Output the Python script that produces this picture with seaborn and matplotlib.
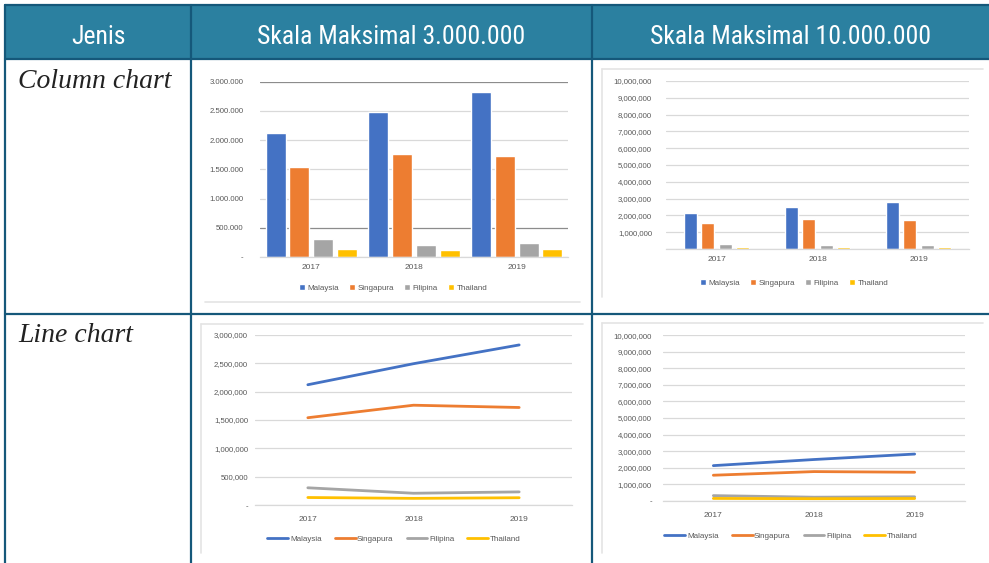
import matplotlib
matplotlib.use("Agg")
import matplotlib.pyplot as plt
import seaborn as sns
import pandas as pd
import numpy as np
from matplotlib.patches import Rectangle
from matplotlib.lines import Line2D

# ---- data -------------------------------------------------------------
years = ["2017", "2018", "2019"]
countries = ["Malaysia", "Singapura", "Filipina", "Thailand"]
malaysia = [2120000, 2490000, 2820000]
singapura = [1540000, 1760000, 1720000]
filipina = [308000, 212000, 236000]
thailand = [137000, 122000, 133000]

header_labels = ["Jenis", "Skala Maksimal 3.000.000", "Skala Maksimal 10.000.000"]
row_labels = ["Column chart", "Line chart"]
ticks_3m = [0, 500000, 1000000, 1500000, 2000000, 2500000, 3000000]
ticks_10m = [0, 1000000, 2000000, 3000000, 4000000, 5000000,
             6000000, 7000000, 8000000, 9000000, 10000000]

palette = ["#4472C4", "#ED7D31", "#A5A5A5", "#FFC000"]

df = pd.DataFrame({
    "Tahun": years * len(countries),
    "Negara": np.repeat(countries, len(years)),
    "Jumlah": malaysia + singapura + filipina + thailand,
})

# ---- figure & table frame ----------------------------------------------
sns.set_theme(style="white")
plt.rcParams["font.family"] = ["Liberation Sans", "DejaVu Sans"]

W, H = 989, 563
fig = plt.figure(figsize=(W / 100, H / 100), dpi=100)
fig.patch.set_facecolor("white")


def rect(x0, y0, x1, y1):
    return [x0 / W, 1 - y1 / H, (x1 - x0) / W, (y1 - y0) / H]


bg = fig.add_axes([0, 0, 1, 1])
bg.set_xlim(0, W)
bg.set_ylim(H, 0)
bg.axis("off")

teal = "#2B80A0"
border = "#15587A"
bg.add_patch(Rectangle((5, 5), W - 5, 54, facecolor=teal, edgecolor="none"))
for y in (5, 59, 314):
    bg.add_line(Line2D([5, W], [y, y], color=border, lw=1.6))
for x in (5, 191, 592):
    bg.add_line(Line2D([x, x], [5, H], color=border, lw=1.6))

head_font = ["Roboto Condensed", "Liberation Sans Narrow", "DejaVu Sans"]
for cx, lab in zip((98, 391, 790), header_labels):
    bg.text(cx, 37, lab, color="white", fontsize=18.5, ha="center", va="center",
            family=head_font, fontstretch="condensed")
for cy, lab in zip((81, 335), row_labels):
    bg.text(18, cy, lab, color="#222222", fontsize=20, ha="left", va="center",
            family=["Liberation Serif", "DejaVu Serif"], style="italic")

# faint frames of the chart pictures
frame_c = "#E4E4E4"
bg.add_line(Line2D([205, 580], [302, 302], color=frame_c, lw=1.2))
bg.add_line(Line2D([602, 602], [69, 297], color=frame_c, lw=1.2))
bg.add_line(Line2D([602, 983], [69, 69], color=frame_c, lw=1.2))
bg.add_line(Line2D([201, 201], [324, 553], color=frame_c, lw=1.2))
bg.add_line(Line2D([201, 583], [324, 324], color=frame_c, lw=1.2))
bg.add_line(Line2D([602, 602], [323, 553], color=frame_c, lw=1.2))
bg.add_line(Line2D([602, 983], [323, 323], color=frame_c, lw=1.2))

tick_color = "#595959"
grid_color = "#D9D9D9"


def fmt(v, sep):
    return "-" if v == 0 else f"{int(v):,}".replace(",", sep)


def style_axes(ax, ticks, labels, top, pad):
    ax.set_facecolor("none")
    ax.set_ylim(0, top)
    ax.set_xlim(-0.5, 2.5)
    ax.set_yticks(ticks)
    ax.set_yticklabels(labels)
    ax.tick_params(axis="y", length=0, pad=pad, labelsize=5.6, labelcolor=tick_color)
    ax.tick_params(axis="x", length=0, pad=5, labelsize=6, labelcolor=tick_color)
    ax.set_xlabel("")
    ax.set_ylabel("")
    ax.yaxis.grid(True, color=grid_color, lw=0.9)
    ax.set_axisbelow(True)
    for s in ("left", "right", "top"):
        ax.spines[s].set_visible(False)
    ax.spines["bottom"].set_color(grid_color)
    ax.spines["bottom"].set_linewidth(0.9)


def place_legend(ax, cx, cy, marker):
    handles, labels = ax.get_legend_handles_labels()
    if ax.get_legend() is not None:
        ax.get_legend().remove()
    kw = dict(handlelength=0.8, handleheight=0.8, handletextpad=0.3, columnspacing=1.2) \
        if marker == "box" else dict(handlelength=2.6, handletextpad=0.2, columnspacing=1.6)
    ax.legend(handles, labels, loc="center", bbox_to_anchor=(cx / W, 1 - cy / H),
              bbox_transform=fig.transFigure, ncol=4, frameon=False,
              fontsize=5.8, labelcolor=tick_color, **kw)


# ---- column chart, 3,000,000 scale -------------------------------------
ax1 = fig.add_axes(rect(260, 81.7, 568, 257))
sns.barplot(data=df, x="Tahun", y="Jumlah", hue="Negara", palette=palette,
            saturation=1, width=0.93, gap=0.16, ax=ax1)
style_axes(ax1, ticks_3m, [fmt(v, ".") for v in ticks_3m], 3000000, 12)
for v, gl in zip(ticks_3m, ax1.get_ygridlines()):
    if v in (500000, 3000000):
        gl.set_color("#8C8C8C")
place_legend(ax1, 393, 288, "box")

# ---- column chart, 10,000,000 scale ------------------------------------
ax2 = fig.add_axes(rect(666, 81, 969, 249))
sns.barplot(data=df, x="Tahun", y="Jumlah", hue="Negara", palette=palette,
            saturation=1, width=0.69, gap=0.25, ax=ax2)
style_axes(ax2, ticks_10m, ["" if v == 0 else fmt(v, ",") for v in ticks_10m],
           10000000, 10)
place_legend(ax2, 794, 283, "box")

# ---- line chart, 3,000,000 scale ---------------------------------------
ax3 = fig.add_axes(rect(255, 334.7, 572, 505.3))
sns.lineplot(data=df, x="Tahun", y="Jumlah", hue="Negara", palette=palette,
             linewidth=2.0, sort=False, ax=ax3)
style_axes(ax3, ticks_3m, [fmt(v, ",") for v in ticks_3m], 3000000, 5)
ax3.tick_params(axis="x", pad=8)
place_legend(ax3, 394, 539, "line")

# ---- line chart, 10,000,000 scale --------------------------------------
ax4 = fig.add_axes(rect(663, 335.3, 965, 500.7))
sns.lineplot(data=df, x="Tahun", y="Jumlah", hue="Negara", palette=palette,
             linewidth=2.0, sort=False, ax=ax4)
style_axes(ax4, ticks_10m, [fmt(v, ",") for v in ticks_10m], 10000000, 8)
ax4.tick_params(axis="x", pad=8)
place_legend(ax4, 791, 536, "line")

fig.savefig("out.png", dpi=100, facecolor="white")
